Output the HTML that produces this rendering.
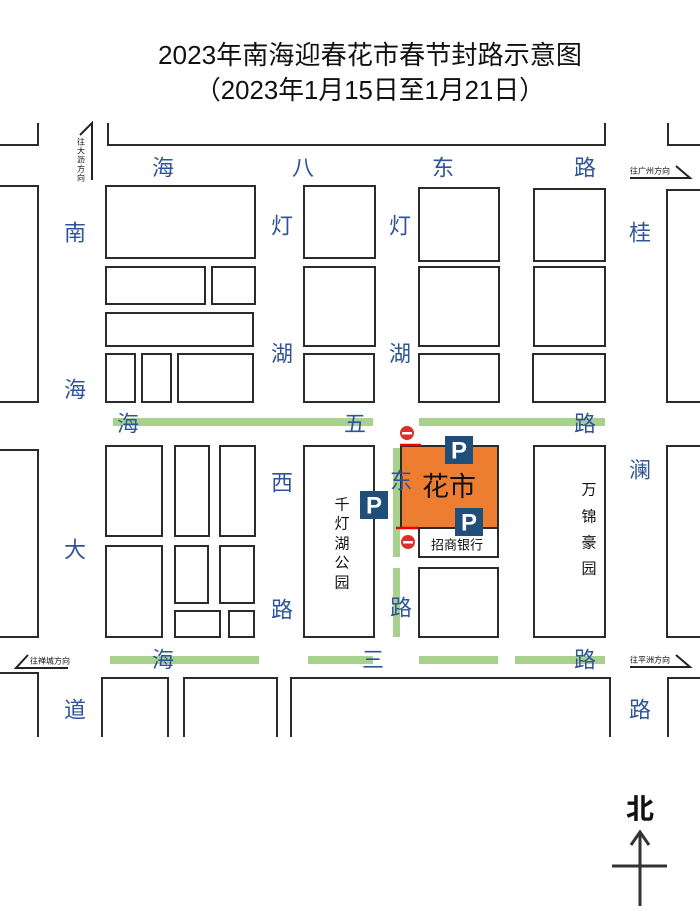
<!DOCTYPE html>
<html><head><meta charset="utf-8"><style>
html,body{margin:0;padding:0;background:#fff;}
svg{display:block;}
.b{fill:none;stroke:#2b2b2b;stroke-width:2;}
.l{fill:#2f5597;font-family:"Liberation Sans","Noto Sans CJK SC",sans-serif;font-size:22px;text-anchor:middle;dominant-baseline:central;}
.k{fill:#111;font-family:"Liberation Sans","Noto Sans CJK SC",sans-serif;text-anchor:middle;dominant-baseline:central;}
.g{fill:#a9d18e;}
.p{fill:#1f4e79;}
.pt{fill:#fff;font-family:"Liberation Sans",sans-serif;font-weight:bold;font-size:24px;text-anchor:middle;dominant-baseline:central;}
</style></head><body>
<svg width="700" height="913" viewBox="0 0 700 913" xmlns="http://www.w3.org/2000/svg">
<text class="k" x="370" y="55" font-size="26" textLength="424" lengthAdjust="spacingAndGlyphs">2023年南海迎春花市春节封路示意图</text>
<text class="k" x="370" y="90" font-size="26" textLength="350" lengthAdjust="spacingAndGlyphs">（2023年1月15日至1月21日）</text>

<!-- top edges -->
<polyline class="b" points="0,145 38,145 38,123"/>
<polyline class="b" points="108,123 108,145 605,145 605,123"/>
<polyline class="b" points="700,145 668,145 668,123"/>

<!-- green bars -->
<rect class="g" x="113" y="418" width="260" height="8"/>
<rect class="g" x="419" y="418" width="186" height="8"/>
<rect class="g" x="110" y="656" width="149" height="8"/>
<rect class="g" x="308" y="656" width="65" height="8"/>
<rect class="g" x="419" y="656" width="79" height="8"/>
<rect class="g" x="515" y="656" width="90" height="8"/>
<rect class="g" x="393" y="448" width="7" height="109"/>
<rect class="g" x="393" y="568" width="7" height="69"/>

<!-- row 1 -->
<rect class="b" x="-2" y="186" width="40" height="216"/>
<rect class="b" x="106" y="186" width="149" height="72"/>
<rect class="b" x="106" y="267" width="99" height="37"/>
<rect class="b" x="212" y="267" width="43" height="37"/>
<rect class="b" x="106" y="313" width="147" height="33"/>
<rect class="b" x="106" y="354" width="29" height="48"/>
<rect class="b" x="142" y="354" width="29" height="48"/>
<rect class="b" x="178" y="354" width="75" height="48"/>
<rect class="b" x="304" y="186" width="71" height="72"/>
<rect class="b" x="304" y="267" width="71" height="79"/>
<rect class="b" x="304" y="354" width="70" height="48"/>
<rect class="b" x="419" y="188" width="80" height="73"/>
<rect class="b" x="419" y="267" width="80" height="79"/>
<rect class="b" x="419" y="354" width="80" height="48"/>
<rect class="b" x="534" y="189" width="71" height="72"/>
<rect class="b" x="534" y="267" width="71" height="79"/>
<rect class="b" x="533" y="354" width="72" height="48"/>
<rect class="b" x="667" y="190" width="40" height="212"/>

<!-- row 2 -->
<rect class="b" x="-2" y="450" width="40" height="187"/>
<rect class="b" x="106" y="446" width="56" height="90"/>
<rect class="b" x="175" y="446" width="34" height="90"/>
<rect class="b" x="220" y="446" width="35" height="90"/>
<rect class="b" x="106" y="546" width="56" height="91"/>
<rect class="b" x="175" y="546" width="33" height="57"/>
<rect class="b" x="220" y="546" width="34" height="57"/>
<rect class="b" x="175" y="611" width="45" height="26"/>
<rect class="b" x="229" y="611" width="25" height="26"/>
<rect class="b" x="304" y="446" width="70" height="191"/>
<rect x="401" y="446" width="97" height="82" fill="#ed7d31" stroke="#2b2b2b" stroke-width="2"/>
<rect class="b" x="419" y="528" width="79" height="29"/>
<rect class="b" x="419" y="568" width="79" height="69"/>
<rect class="b" x="534" y="446" width="71" height="191"/>
<rect class="b" x="667" y="446" width="40" height="191"/>

<!-- row 3 -->
<polyline class="b" points="0,673 38,673 38,737"/>
<polyline class="b" points="102,737 102,678 168,678 168,737"/>
<polyline class="b" points="184,737 184,678 277,678 277,737"/>
<polyline class="b" points="291,737 291,678 610,678 610,737"/>
<polyline class="b" points="668,737 668,678 700,678"/>

<!-- red lines & no-entry -->
<line x1="400" y1="445" x2="421" y2="445" stroke="#e00" stroke-width="2.5"/>
<line x1="396" y1="528" x2="418" y2="528" stroke="#e00" stroke-width="2.5"/>
<circle cx="407" cy="433" r="7" fill="#d9302c"/><rect x="402" y="432" width="10" height="2.5" fill="#fff"/>
<circle cx="408" cy="542" r="7" fill="#d9302c"/><rect x="403" y="541" width="10" height="2.5" fill="#fff"/>

<!-- parking -->
<rect class="p" x="445" y="436" width="28" height="28"/><text class="pt" x="459" y="451">P</text>
<rect class="p" x="360" y="491" width="28" height="28"/><text class="pt" x="374" y="506">P</text>
<rect class="p" x="455" y="508" width="28" height="28"/><text class="pt" x="469" y="523">P</text>

<!-- labels -->
<text class="k" x="449" y="487" font-size="27">花市</text>
<text class="k" x="457" y="545" font-size="13">招商银行</text>
<g class="k" font-size="15">
<text x="342" y="505">千</text><text x="342" y="524">灯</text><text x="342" y="544">湖</text><text x="342" y="563">公</text><text x="342" y="583">园</text>
<text x="589" y="490">万</text><text x="589" y="517">锦</text><text x="589" y="543">豪</text><text x="589" y="569">园</text>
</g>

<g class="l">
<text x="163" y="168">海</text><text x="303" y="168">八</text><text x="443" y="168">东</text><text x="585" y="168">路</text>
<text x="75" y="233">南</text><text x="75" y="390">海</text><text x="75" y="550">大</text><text x="75" y="710">道</text>
<text x="282" y="226">灯</text><text x="282" y="354">湖</text><text x="282" y="483">西</text><text x="282" y="610">路</text>
<text x="400" y="226">灯</text><text x="400" y="354">湖</text><text x="401" y="481">东</text><text x="401" y="608">路</text>
<text x="640" y="233">桂</text><text x="640" y="470">澜</text><text x="640" y="710">路</text>
<text x="128" y="424">海</text><text x="355" y="424">五</text><text x="585" y="424">路</text>
<text x="163" y="660">海</text><text x="373" y="660">三</text><text x="585" y="660">路</text>
</g>

<!-- direction arrows -->
<polyline fill="none" stroke="#222" stroke-width="2" points="80,135 92,123 92,180"/>
<g class="k" font-size="8"><text x="81" y="142">往</text><text x="81" y="151">大</text><text x="81" y="160">沥</text><text x="81" y="169">方</text><text x="81" y="178">向</text></g>
<polyline fill="none" stroke="#222" stroke-width="2" points="630,178 690,178 676,166"/>
<text class="k" x="650" y="171" font-size="8">往广州方向</text>
<polyline fill="none" stroke="#222" stroke-width="2" points="630,667 690,667 676,655"/>
<text class="k" x="650" y="660" font-size="8">往平洲方向</text>
<polyline fill="none" stroke="#222" stroke-width="2" points="28,655 16,668 68,668"/>
<text class="k" x="50" y="661" font-size="8">往禅城方向</text>

<!-- north -->
<text class="k" x="640" y="809" font-size="28" font-weight="bold">北</text>
<line x1="640" y1="832" x2="640" y2="906" stroke="#333" stroke-width="3"/>
<line x1="612" y1="866" x2="667" y2="866" stroke="#333" stroke-width="3"/>
<polyline fill="none" stroke="#333" stroke-width="3" points="631,845 640,832 649,845"/>
</svg>
</body></html>
